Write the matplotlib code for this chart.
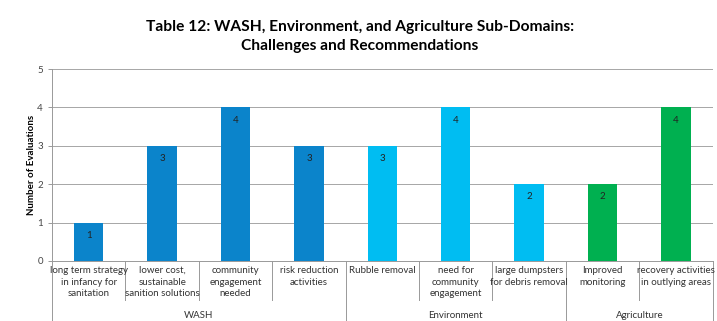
import numpy as np
import matplotlib.pyplot as plt

categories = [
    "long term strategy\nin infancy for\nsanitation",
    "lower cost,\nsustainable\nsanition solutions",
    "community\nengagement\nneeded",
    "risk reduction\nactivities",
    "Rubble removal",
    "need for\ncommunity\nengagement",
    "large dumpsters\nfor debris removal",
    "Improved\nmonitoring",
    "recovery activities\nin outlying areas",
]
values = [1, 3, 4, 3, 3, 4, 2, 2, 4]
groups = ["WASH", "Environment", "Agriculture"]
group_sizes = [4, 3, 2]
group_colors = ["#0B84CB", "#00BDF2", "#00B050"]

plt.rcParams['font.family'] = ['Lato', 'DejaVu Sans']

fig = plt.figure(figsize=(7.17, 3.21), dpi=100)
ax = fig.add_axes([0.0725, 0.187, 0.9215, 0.598])

colors = []
for c, n in zip(group_colors, group_sizes):
    colors += [c] * n

x = np.arange(len(values))
ax.bar(x, values, width=0.4, color=colors, zorder=3)
for xi, v in zip(x, values):
    ax.text(xi, v - 0.33, str(v), ha="center", va="center", fontsize=7, color="#222222", zorder=4)

ax.set_xlim(-0.5, len(values) - 0.5)
ax.set_ylim(0, 5)
ax.set_yticks(range(0, 6))
ax.tick_params(axis="y", labelsize=7, colors="#444444", length=3, color="#999999", width=0.7)
ax.yaxis.grid(True, color="#a6a6a6", linewidth=0.7, zorder=0)
ax.set_ylabel("Number of Evaluations", fontsize=7, fontweight="bold", labelpad=1)

for s in ["top", "right"]:
    ax.spines[s].set_visible(False)
ax.spines["left"].set_color("#999999")
ax.spines["bottom"].set_color("#999999")
ax.spines["left"].set_linewidth(0.7)
ax.spines["bottom"].set_linewidth(0.7)

ax.set_xticks([])
trans = ax.get_xaxis_transform()
for xi, label in zip(x, categories):
    ax.text(xi, -0.025, label, ha="center", va="top", fontsize=7, color="#333333",
            linespacing=1.4, transform=trans)

# category dividers below the axis, taller ones at group boundaries
bounds = np.cumsum([0] + group_sizes)
for b in np.arange(len(values) + 1) - 0.5:
    long_line = (b + 0.5) in bounds
    y1 = -0.32 if long_line else -0.205
    ax.plot([b, b], [0, y1], color="#999999", linewidth=0.7, transform=trans, clip_on=False)

start = 0
for g, n in zip(groups, group_sizes):
    center = start + (n - 1) / 2
    ax.text(center, -0.285, g, ha="center", va="center", fontsize=7, color="#333333", transform=trans)
    start += n

fig.text(0.502, 0.887, "Table 12: WASH, Environment, and Agriculture Sub-Domains:\nChallenges and Recommendations",
         ha="center", va="center", fontsize=11.2, fontweight="bold", linespacing=1.5)

plt.savefig("out.png", dpi=100)
